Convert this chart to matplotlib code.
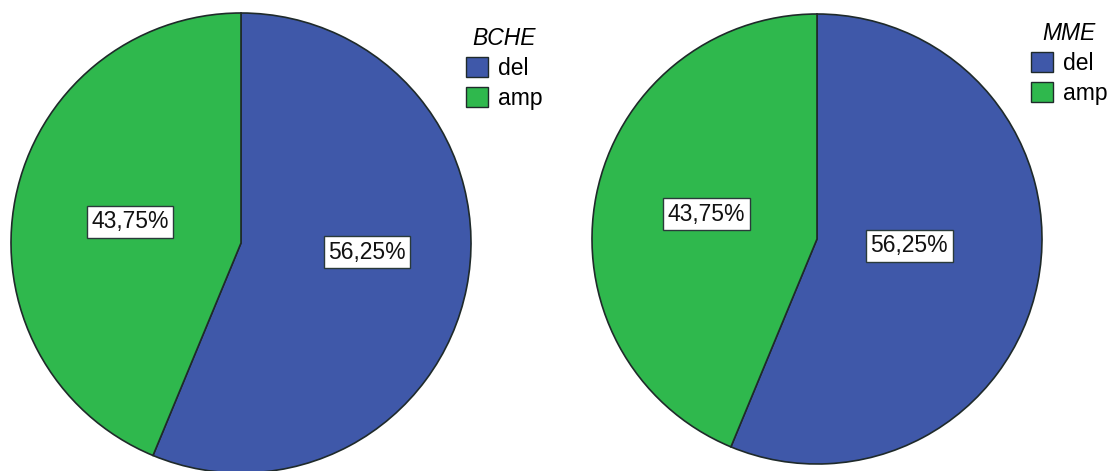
import matplotlib
matplotlib.use("Agg")
import matplotlib.pyplot as plt
from matplotlib.patches import Patch

plt.rcParams['font.family'] = ['Liberation Sans', 'DejaVu Sans']

categories = ["del", "amp"]
titles = ["BCHE", "MME"]
bche_values = [56.25, 43.75]
mme_values = [56.25, 43.75]
series = [bche_values, mme_values]

colors = ["#3F58A9", "#2FB84D"]
edge = "#1F2A2A"

W, H = 1113, 471
fig = plt.figure(figsize=(W / 100, H / 100), dpi=100)

# pie geometry in pixels: (center x, center y from top, radius)
geoms = [(241, 243, 230), (817, 239, 225)]
# label anchor offsets (fraction of radius) for each wedge
label_offsets = [
    [(0.548, -0.04), (-0.483, 0.093)],
    [(0.41, -0.03), (-0.49, 0.11)],
]
legend_anchor = [(466, 27), (1031, 22)]

for vals, title, (cx, cy, r), offs, (lx, ly) in zip(series, titles, geoms, label_offsets, legend_anchor):
    ax = fig.add_axes([(cx - r) / W, (H - cy - r) / H, 2 * r / W, 2 * r / H])
    ax.pie(vals, colors=colors, startangle=90, counterclock=False,
           radius=1.0, center=(0, 0),
           wedgeprops=dict(edgecolor=edge, linewidth=1.2))
    ax.set_xlim(-1, 1)
    ax.set_ylim(-1, 1)
    ax.set_aspect('equal')
    ax.axis('off')
    for v, (dx, dy) in zip(vals, offs):
        ax.text(dx, dy, f"{v:.2f}%".replace('.', ','), ha='center', va='center',
                fontsize=16.5, color='#111111',
                bbox=dict(boxstyle='square,pad=0.2', facecolor='white',
                          edgecolor='#2a3a3a', linewidth=1.0))
    handles = [Patch(facecolor=c, edgecolor=edge, linewidth=1.0) for c in colors]
    fig.legend(handles, categories, title=title, loc='upper left',
               bbox_to_anchor=(lx / W, 1 - ly / H), frameon=False,
               fontsize=16.5, handlelength=0.95, handleheight=0.95,
               handletextpad=0.45, labelspacing=0.3, borderpad=0.0,
               borderaxespad=0.0,
               title_fontproperties=dict(style='italic', size=16.5))

fig.savefig("out.png", dpi=100, facecolor='white')
